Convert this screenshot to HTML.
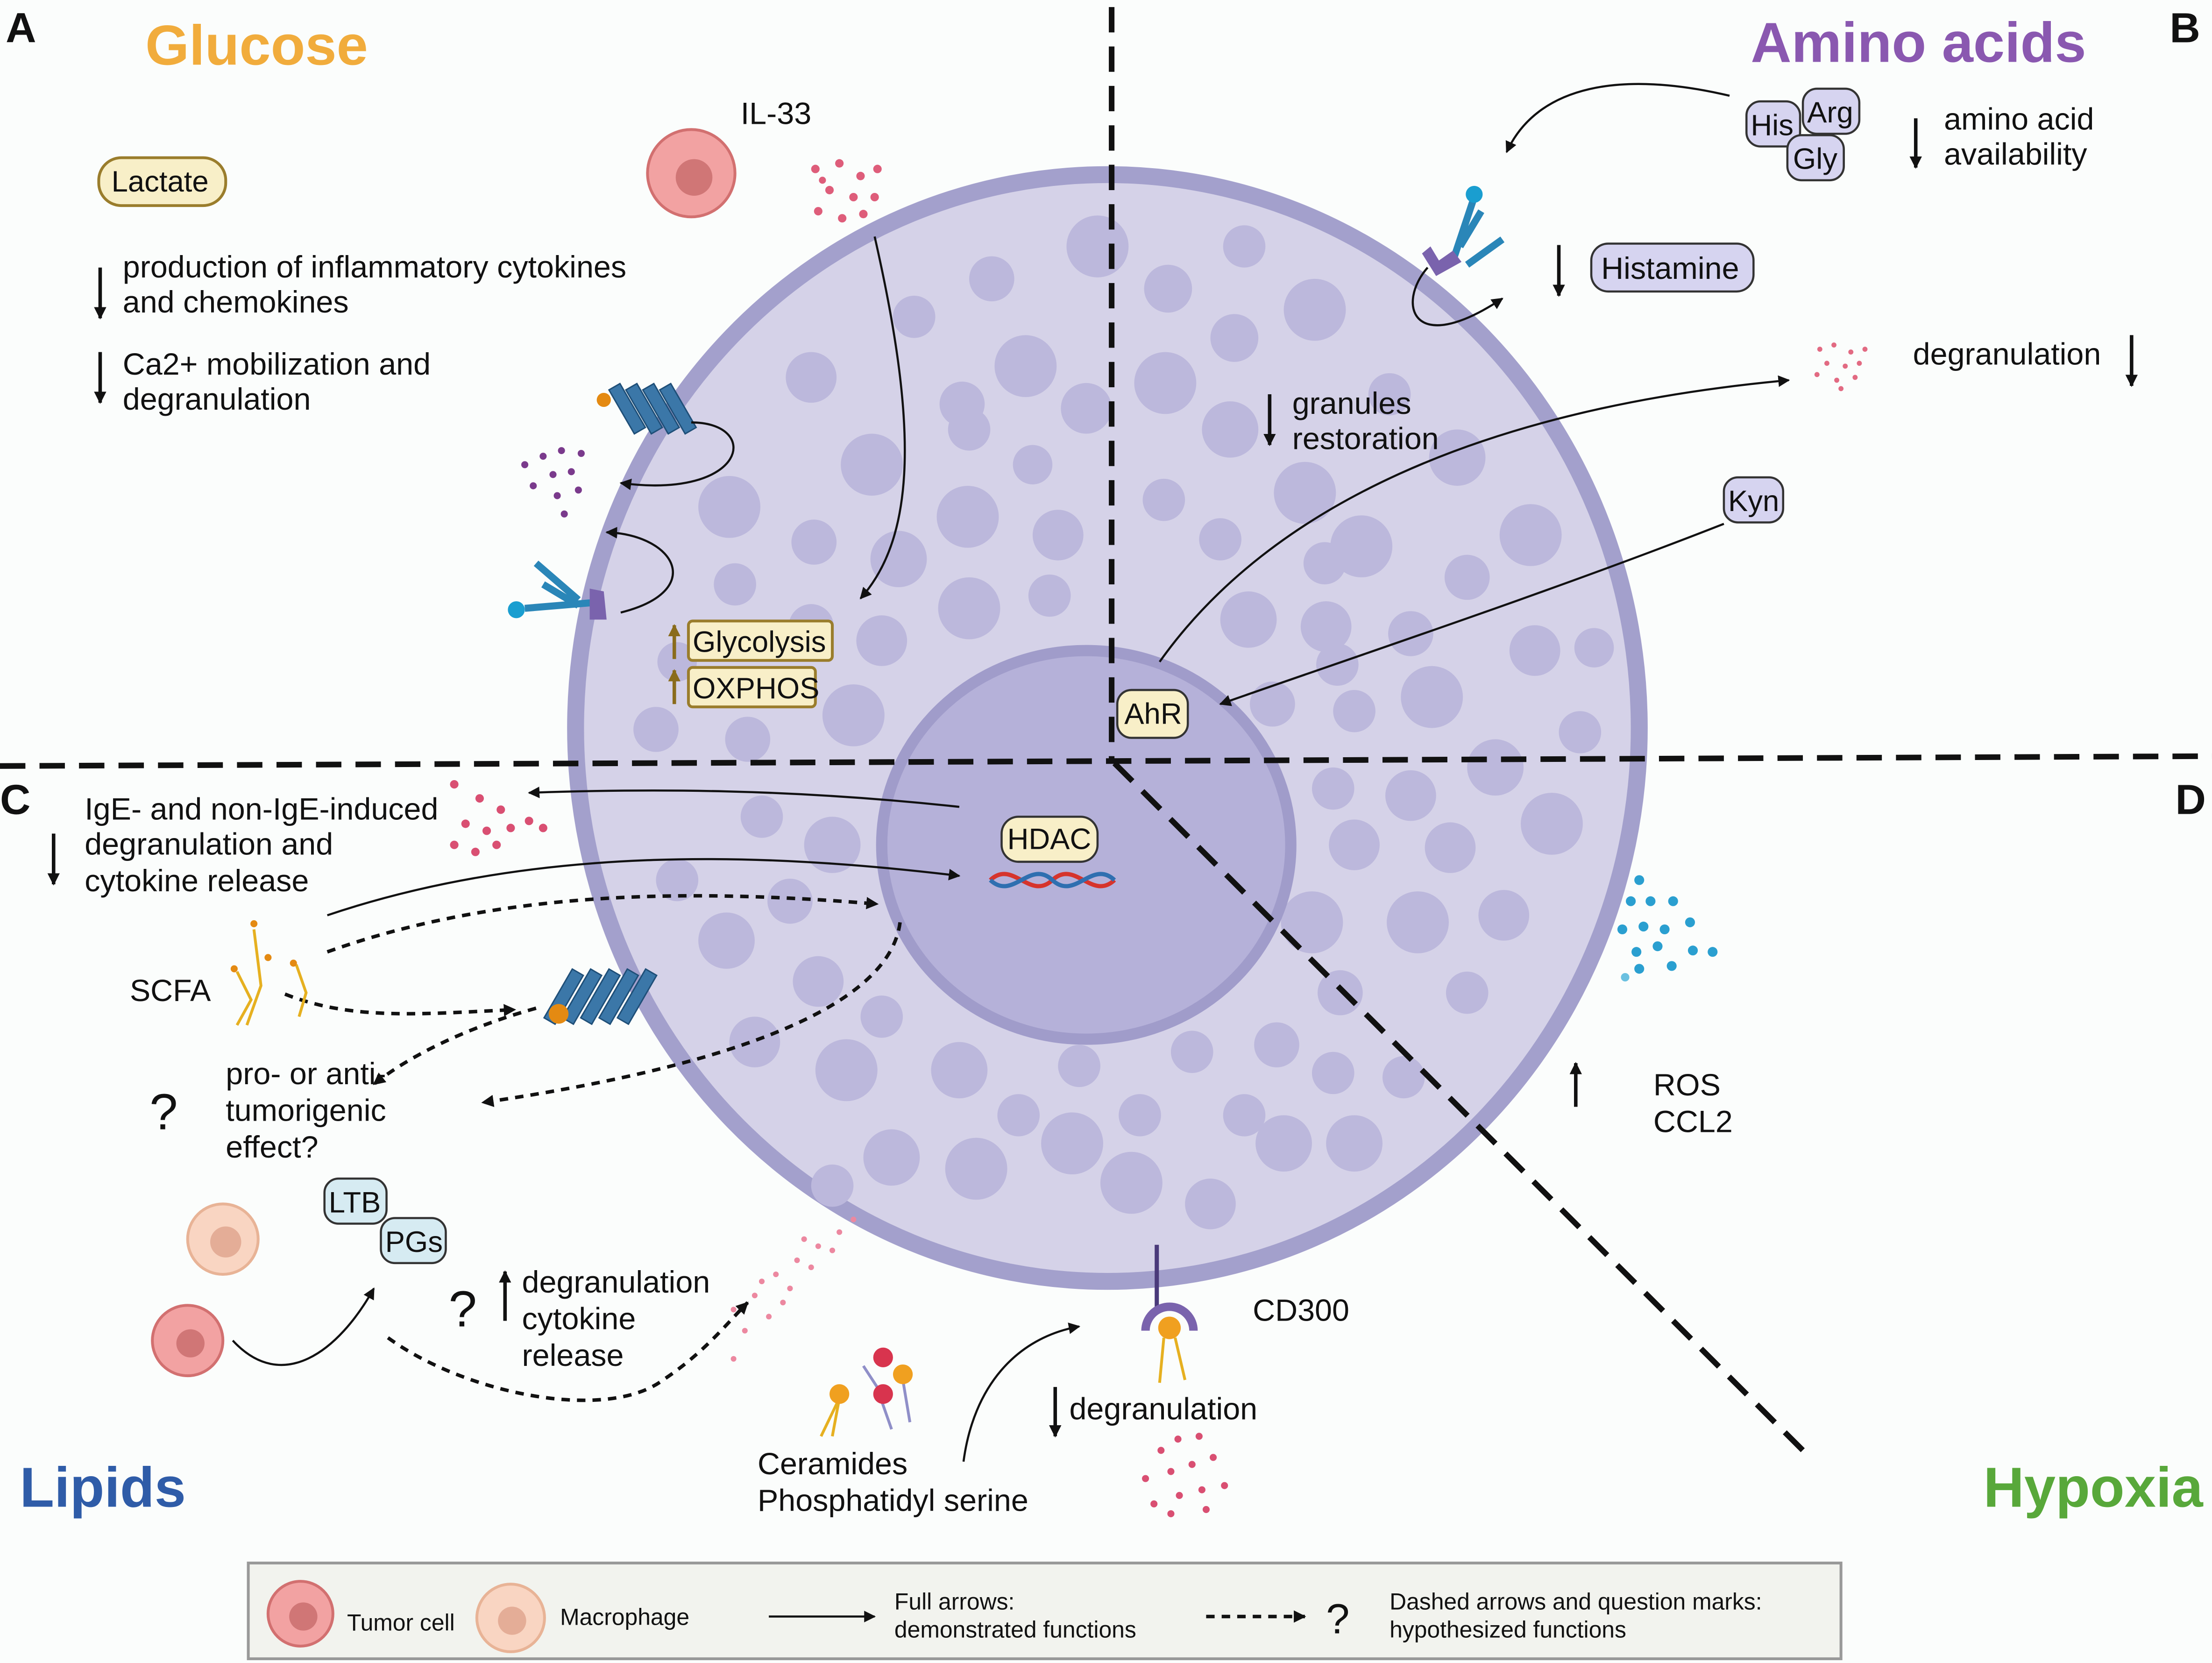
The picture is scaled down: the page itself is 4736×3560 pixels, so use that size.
<!DOCTYPE html>
<html><head><meta charset="utf-8"><style>
html,body{margin:0;padding:0;background:#fff}
svg{display:block}
text{font-family:"Liberation Sans",sans-serif;fill:#111}
</style></head><body>
<svg width="4736" height="3560" viewBox="0 0 1568 1181" preserveAspectRatio="none" xmlns="http://www.w3.org/2000/svg">
<defs>
<marker id="a" viewBox="0 0 10 10" refX="9" refY="5" markerWidth="5.5" markerHeight="5.5" orient="auto-start-reverse"><path d="M0,0L10,5L0,10z" fill="#111"/></marker>
<marker id="b" viewBox="0 0 10 10" refX="9" refY="5" markerWidth="8" markerHeight="8" orient="auto-start-reverse"><path d="M0,0L10,5L0,10z" fill="#111"/></marker>
<marker id="c" viewBox="0 0 10 10" refX="9" refY="5" markerWidth="3.5" markerHeight="3.5" orient="auto-start-reverse"><path d="M0,0L10,5L0,10z" fill="#111"/></marker>
<marker id="d" viewBox="0 0 10 10" refX="9" refY="5" markerWidth="3.5" markerHeight="3.5" orient="auto-start-reverse"><path d="M0,0L10,5L0,10z" fill="#8a6c1c"/></marker>
</defs>
<rect width="1568" height="1181" fill="#fbfdfc"/>
<ellipse cx="785" cy="517" rx="377" ry="393" fill="#d5d2e8" stroke="#a3a0cc" stroke-width="12"/>
<g fill="#bcb8dc">
<circle cx="778" cy="175" r="22"/><circle cx="882" cy="175" r="15"/><circle cx="703" cy="198" r="16"/><circle cx="828" cy="205" r="17"/><circle cx="932" cy="220" r="22"/><circle cx="648" cy="225" r="15"/><circle cx="875" cy="240" r="17"/><circle cx="575" cy="268" r="18"/><circle cx="727" cy="260" r="22"/><circle cx="682" cy="287" r="16"/><circle cx="770" cy="290" r="18"/><circle cx="826" cy="272" r="22"/><circle cx="985" cy="280" r="15"/><circle cx="618" cy="330" r="22"/><circle cx="687" cy="305" r="15"/><circle cx="872" cy="305" r="20"/><circle cx="732" cy="330" r="14"/><circle cx="1033" cy="325" r="20"/><circle cx="517" cy="360" r="22"/><circle cx="686" cy="367" r="22"/><circle cx="925" cy="350" r="22"/><circle cx="577" cy="385" r="16"/><circle cx="825" cy="355" r="15"/><circle cx="1085" cy="380" r="22"/><circle cx="965" cy="388" r="22"/><circle cx="865" cy="383" r="15"/><circle cx="637" cy="397" r="20"/><circle cx="750" cy="380" r="18"/><circle cx="521" cy="415" r="15"/><circle cx="687" cy="432" r="22"/><circle cx="1040" cy="410" r="16"/><circle cx="939" cy="400" r="15"/><circle cx="1000" cy="450" r="16"/><circle cx="575" cy="445" r="16"/><circle cx="744" cy="423" r="15"/><circle cx="625" cy="455" r="18"/><circle cx="885" cy="440" r="20"/><circle cx="1088" cy="462" r="18"/><circle cx="940" cy="445" r="18"/><circle cx="465" cy="518" r="16"/><circle cx="1015" cy="495" r="22"/><circle cx="948" cy="472" r="15"/><circle cx="902" cy="500" r="16"/><circle cx="605" cy="508" r="22"/><circle cx="530" cy="525" r="16"/><circle cx="1120" cy="520" r="15"/><circle cx="960" cy="505" r="15"/><circle cx="1000" cy="565" r="18"/><circle cx="1060" cy="545" r="20"/><circle cx="1100" cy="585" r="22"/><circle cx="945" cy="560" r="15"/><circle cx="480" cy="625" r="15"/><circle cx="540" cy="580" r="15"/><circle cx="590" cy="600" r="20"/><circle cx="1028" cy="602" r="18"/><circle cx="960" cy="600" r="18"/><circle cx="1066" cy="650" r="18"/><circle cx="560" cy="640" r="16"/><circle cx="515" cy="668" r="20"/><circle cx="930" cy="655" r="22"/><circle cx="1005" cy="655" r="22"/><circle cx="1040" cy="705" r="15"/><circle cx="950" cy="705" r="16"/><circle cx="580" cy="697" r="18"/><circle cx="625" cy="722" r="15"/><circle cx="535" cy="740" r="18"/><circle cx="600" cy="760" r="22"/><circle cx="995" cy="765" r="15"/><circle cx="945" cy="762" r="15"/><circle cx="680" cy="760" r="20"/><circle cx="765" cy="757" r="15"/><circle cx="845" cy="747" r="15"/><circle cx="905" cy="742" r="16"/><circle cx="722" cy="792" r="15"/><circle cx="808" cy="792" r="15"/><circle cx="882" cy="792" r="15"/><circle cx="760" cy="812" r="22"/><circle cx="632" cy="822" r="20"/><circle cx="692" cy="830" r="22"/><circle cx="802" cy="840" r="22"/><circle cx="858" cy="855" r="18"/><circle cx="590" cy="842" r="15"/><circle cx="960" cy="812" r="20"/><circle cx="910" cy="812" r="20"/><circle cx="480" cy="470" r="14"/><circle cx="1130" cy="460" r="14"/>
</g>
<ellipse cx="770" cy="600" rx="145" ry="138" fill="#b5b1d9" stroke="#a09cca" stroke-width="8"/>
<g stroke="#111" stroke-width="4" stroke-dasharray="18,10" fill="none">
<line x1="788" y1="5" x2="788" y2="540"/>
<line x1="0" y1="544" x2="1568" y2="537"/>
<line x1="790" y1="542" x2="1278" y2="1030"/>
</g>
<g font-weight="bold" font-size="30">
<text x="4" y="30">A</text><text x="1538" y="30">B</text><text x="0" y="578">C</text><text x="1542" y="578">D</text>
</g>
<text x="103" y="46" font-size="40" font-weight="bold" style="fill:#f1ac3c">Glucose</text>
<text x="1241" y="44" font-size="40" font-weight="bold" style="fill:#8a58b0">Amino acids</text>
<text x="14" y="1070" font-size="40" font-weight="bold" style="fill:#2f5ca8">Lipids</text>
<text x="1406" y="1070" font-size="40" font-weight="bold" style="fill:#58a83a">Hypoxia</text>
<rect x="70" y="112" width="90" height="34" rx="16" fill="#f8efc8" stroke="#9a7d2c" stroke-width="2"/>
<text x="79" y="136" font-size="21">Lactate</text>
<g font-size="22"><text x="87" y="197">production of inflammatory cytokines</text><text x="87" y="222">and chemokines</text><text x="87" y="266">Ca2+ mobilization and</text><text x="87" y="291">degranulation</text>
<text x="525" y="88">IL-33</text></g>
<g stroke="#111" stroke-width="2.5" marker-end="url(#c)"><line x1="71" y1="190" x2="71" y2="226"/><line x1="71" y1="250" x2="71" y2="286"/></g>
<circle cx="490" cy="123" r="31" fill="#f2a2a2" stroke="#d27070" stroke-width="2"/><circle cx="492" cy="126" r="13" fill="#d07676"/>
<g fill="#de5d7a"><circle cx="578" cy="120" r="3"/><circle cx="595" cy="116" r="3"/><circle cx="610" cy="125" r="3"/><circle cx="588" cy="135" r="3"/><circle cx="605" cy="140" r="3"/><circle cx="620" cy="140" r="3"/><circle cx="580" cy="150" r="3"/><circle cx="597" cy="155" r="3"/><circle cx="612" cy="152" r="3"/><circle cx="622" cy="120" r="3"/><circle cx="583" cy="128" r="2.5"/></g>
<path d="M620,168 C650,300 650,380 610,425" stroke="#111" stroke-width="1.5" fill="none" marker-end="url(#a)"/>
<g fill="#3b77a8" stroke="#1f4f78"><rect x="440" y="272" width="9" height="36" transform="rotate(-30 445 290)"/><rect x="452" y="272" width="9" height="36" transform="rotate(-30 457 290)"/><rect x="464" y="272" width="9" height="36" transform="rotate(-30 469 290)"/><rect x="476" y="272" width="9" height="36" transform="rotate(-30 481 290)"/></g>
<circle cx="428" cy="284" r="5" fill="#e48a12"/>
<path d="M490,300 C540,300 530,355 440,343" stroke="#111" stroke-width="1.5" fill="none" marker-end="url(#a)"/>
<g fill="#7a3a8c"><circle cx="372" cy="330" r="2.5"/><circle cx="385" cy="324" r="2.5"/><circle cx="398" cy="320" r="2.5"/><circle cx="412" cy="322" r="2.5"/><circle cx="392" cy="337" r="2.5"/><circle cx="405" cy="335" r="2.5"/><circle cx="378" cy="345" r="2.5"/><circle cx="395" cy="352" r="2.5"/><circle cx="410" cy="348" r="2.5"/><circle cx="400" cy="365" r="2.5"/></g>
<g stroke="#2a86b8" stroke-width="5" fill="none"><line x1="372" y1="432" x2="420" y2="428"/><line x1="380" y1="400" x2="410" y2="426"/><line x1="385" y1="415" x2="410" y2="430"/></g>
<circle cx="366" cy="433" r="6" fill="#1a9ed0"/><path d="M418,418 L428,420 L430,440 L418,440" fill="#7a63ad"/>
<path d="M440,435 C500,420 480,380 430,378" stroke="#111" stroke-width="1.5" fill="none" marker-end="url(#a)"/>
<rect x="488" y="441" width="102" height="28" rx="3" fill="#f8efc8" stroke="#9a7d2c" stroke-width="2"/><text x="491" y="463" font-size="21">Glycolysis</text>
<rect x="488" y="474" width="90" height="28" rx="3" fill="#f8efc8" stroke="#9a7d2c" stroke-width="2"/><text x="491" y="496" font-size="21">OXPHOS</text>
<g stroke="#8a6c1c" stroke-width="2.5" marker-end="url(#d)"><line x1="478" y1="468" x2="478" y2="444"/><line x1="478" y1="500" x2="478" y2="476"/></g>
<g fill="#d6d4f0" stroke="#333" stroke-width="1.5"><rect x="1278" y="63" width="40" height="32" rx="10"/><rect x="1238" y="72" width="38" height="32" rx="10"/><rect x="1267" y="96" width="40" height="32" rx="10"/></g>
<g font-size="21"><text x="1281" y="87">Arg</text><text x="1241" y="96">His</text><text x="1271" y="120">Gly</text></g>
<g font-size="22">
<text x="1378" y="92">amino acid</text><text x="1378" y="117">availability</text>
<text x="1356" y="259">degranulation</text>
<text x="916" y="294">granules</text><text x="916" y="319">restoration</text></g>
<g stroke="#111" stroke-width="2.5" marker-end="url(#c)"><line x1="1358" y1="84" x2="1358" y2="119"/><line x1="1105" y1="174" x2="1105" y2="210"/><line x1="1511" y1="238" x2="1511" y2="274"/><line x1="900" y1="280" x2="900" y2="316"/><line x1="38" y1="592" x2="38" y2="628"/><line x1="748" y1="985" x2="748" y2="1020"/><line x1="358" y1="938" x2="358" y2="903"/><line x1="1117" y1="786" x2="1117" y2="755"/></g>
<path d="M1226,68 C1150,50 1090,60 1068,108" stroke="#111" stroke-width="1.5" fill="none" marker-end="url(#a)"/>
<g stroke="#2a86b8" stroke-width="5" fill="none"><line x1="1030" y1="185" x2="1045" y2="140"/><line x1="1040" y1="188" x2="1065" y2="170"/><line x1="1035" y1="175" x2="1050" y2="150"/></g>
<circle cx="1045" cy="138" r="6" fill="#1a9ed0"/><path d="M1008,180 L1018,196 L1036,186 L1030,178 L1020,185 L1014,175z" fill="#7a63ad"/>
<path d="M1012,190 C990,215 1000,255 1065,212" stroke="#111" stroke-width="1.5" fill="none" marker-end="url(#a)"/>
<rect x="1128" y="173" width="115" height="34" rx="12" fill="#d6d4f0" stroke="#333" stroke-width="1.5"/><text x="1135" y="198" font-size="22">Histamine</text>
<g fill="#e26a82"><circle cx="1290" cy="248" r="1.8"/><circle cx="1300" cy="245" r="1.8"/><circle cx="1312" cy="250" r="1.8"/><circle cx="1322" cy="248" r="1.8"/><circle cx="1295" cy="258" r="1.8"/><circle cx="1308" cy="260" r="1.8"/><circle cx="1318" cy="258" r="1.8"/><circle cx="1288" cy="266" r="1.8"/><circle cx="1302" cy="270" r="1.8"/><circle cx="1315" cy="268" r="1.8"/><circle cx="1305" cy="276" r="1.8"/></g>
<path d="M822,470 C900,360 1050,290 1268,270" stroke="#111" stroke-width="1.5" fill="none" marker-end="url(#a)"/>
<rect x="1222" y="339" width="42" height="32" rx="10" fill="#d6d4f0" stroke="#333" stroke-width="1.5"/><text x="1225" y="363" font-size="21">Kyn</text>
<path d="M1222,372 C1100,420 950,470 865,500" stroke="#111" stroke-width="1.5" fill="none" marker-end="url(#a)"/>
<rect x="792" y="490" width="50" height="34" rx="10" fill="#f8efc8" stroke="#333" stroke-width="1.5"/><text x="797" y="514" font-size="21">AhR</text>
<rect x="710" y="580" width="68" height="32" rx="12" fill="#f8efc8" stroke="#333" stroke-width="1.5"/><text x="714" y="603" font-size="21">HDAC</text>
<path d="M702,625 C718,610 730,640 746,625 C762,610 774,640 790,625" stroke="#d6342c" stroke-width="3" fill="none"/>
<path d="M702,625 C718,640 730,610 746,625 C762,640 774,610 790,625" stroke="#2f6fb0" stroke-width="3" fill="none"/>
<g font-size="22"><text x="60" y="582">IgE- and non-IgE-induced</text><text x="60" y="607">degranulation and</text><text x="60" y="633">cytokine release</text>
<text x="92" y="711">SCFA</text><text x="160" y="770">pro- or anti-</text><text x="160" y="796">tumorigenic</text><text x="160" y="822">effect?</text>
<text x="370" y="918">degranulation</text><text x="370" y="944">cytokine</text><text x="370" y="970">release</text>
<text x="537" y="1047">Ceramides</text><text x="537" y="1073">Phosphatidyl serine</text>
<text x="758" y="1008">degranulation</text><text x="888" y="938">CD300</text>
<text x="1172" y="778">ROS</text><text x="1172" y="804">CCL2</text></g>
<text x="106" y="802" font-size="36">?</text><text x="318" y="942" font-size="36">?</text>
<path d="M680,573 C560,560 460,560 375,563" stroke="#111" stroke-width="1.5" fill="none" marker-end="url(#a)"/>
<path d="M232,650 C380,600 540,605 680,622" stroke="#111" stroke-width="1.5" fill="none" marker-end="url(#a)"/>
<g stroke="#111" stroke-width="2.5" fill="none" stroke-dasharray="6,5" marker-end="url(#c)">
<path d="M232,676 C360,630 500,632 622,642"/>
<path d="M202,706 C250,725 300,720 365,717"/>
<path d="M380,716 C330,730 290,750 265,770"/>
<path d="M638,655 C630,720 500,760 342,783"/>
<path d="M275,950 C330,990 430,1010 470,980 C500,960 515,940 530,925"/>
</g>
<g stroke="#e6b020" stroke-width="2" fill="none"><path d="M180,660 L185,700 L175,728"/><path d="M168,690 L178,710 L168,728"/><path d="M210,685 L217,705 L212,722"/></g>
<g fill="#e48a12"><circle cx="180" cy="656" r="2.5"/><circle cx="166" cy="688" r="2.5"/><circle cx="208" cy="684" r="2.5"/><circle cx="190" cy="680" r="2.5"/></g>
<g fill="#d94f72"><circle cx="322" cy="557" r="3"/><circle cx="340" cy="567" r="3"/><circle cx="355" cy="575" r="3"/><circle cx="330" cy="585" r="3"/><circle cx="345" cy="590" r="3"/><circle cx="362" cy="588" r="3"/><circle cx="322" cy="600" r="3"/><circle cx="337" cy="605" r="3"/><circle cx="352" cy="600" r="3"/><circle cx="375" cy="583" r="3"/><circle cx="385" cy="588" r="3"/></g>
<g fill="#3b77a8" stroke="#1f4f78"><rect x="395" y="688" width="9" height="40" transform="rotate(30 400 708)"/><rect x="408" y="688" width="9" height="40" transform="rotate(30 413 708)"/><rect x="421" y="688" width="9" height="40" transform="rotate(30 426 708)"/><rect x="434" y="688" width="9" height="40" transform="rotate(30 439 708)"/><rect x="447" y="688" width="9" height="40" transform="rotate(30 452 708)"/></g>
<circle cx="396" cy="720" r="7" fill="#e48a12"/>
<rect x="230" y="837" width="44" height="32" rx="10" fill="#d6ebf2" stroke="#333" stroke-width="1.5"/><text x="233" y="861" font-size="21">LTB</text>
<rect x="270" y="865" width="46" height="32" rx="10" fill="#d6ebf2" stroke="#333" stroke-width="1.5"/><text x="273" y="889" font-size="21">PGs</text>
<circle cx="158" cy="880" r="25" fill="#f9d5c2" stroke="#e8b396" stroke-width="2"/><circle cx="160" cy="882" r="11" fill="#e4ad97"/>
<circle cx="133" cy="952" r="25" fill="#f2a2a2" stroke="#d27070" stroke-width="2"/><circle cx="135" cy="954" r="10" fill="#d07676"/>
<path d="M165,952 C200,990 240,960 265,915" stroke="#111" stroke-width="1.5" fill="none" marker-end="url(#a)"/>
<g fill="#ec88a0"><circle cx="520" cy="930" r="2"/><circle cx="535" cy="920" r="2"/><circle cx="550" cy="905" r="2"/><circle cx="565" cy="895" r="2"/><circle cx="580" cy="885" r="2"/><circle cx="595" cy="875" r="2"/><circle cx="605" cy="866" r="2"/><circle cx="528" cy="945" r="2"/><circle cx="545" cy="935" r="2"/><circle cx="560" cy="915" r="2"/><circle cx="575" cy="900" r="2"/><circle cx="590" cy="888" r="2"/><circle cx="540" cy="910" r="2"/><circle cx="520" cy="965" r="2"/><circle cx="555" cy="925" r="2"/><circle cx="570" cy="880" r="2"/></g>
<g stroke="#8f8fc8" stroke-width="2"><line x1="612" y1="970" x2="625" y2="990"/><line x1="625" y1="995" x2="632" y2="1015"/><line x1="640" y1="980" x2="645" y2="1010"/></g>
<g stroke="#e6b020" stroke-width="2"><line x1="595" y1="993" x2="582" y2="1020"/><line x1="595" y1="993" x2="590" y2="1020"/></g>
<circle cx="626" cy="964" r="7" fill="#d8344e"/><circle cx="626" cy="990" r="7" fill="#d8344e"/><circle cx="640" cy="976" r="7" fill="#f0a020"/><circle cx="595" cy="990" r="7" fill="#f0a020"/>
<path d="M683,1038 C690,985 720,950 765,942" stroke="#111" stroke-width="1.5" fill="none" marker-end="url(#a)"/>
<line x1="820" y1="884" x2="820" y2="928" stroke="#4a3a7a" stroke-width="3"/>
<path d="M812,945 A16,16 0 0 1 846,945" stroke="#7a63ad" stroke-width="6" fill="none"/>
<circle cx="829" cy="943" r="8" fill="#f0a020"/><g stroke="#e6b020" stroke-width="2"><line x1="825" y1="950" x2="822" y2="982"/><line x1="833" y1="950" x2="840" y2="980"/></g>
<g fill="#d94f72"><circle cx="823" cy="1030" r="2.5"/><circle cx="835" cy="1022" r="2.5"/><circle cx="850" cy="1020" r="2.5"/><circle cx="812" cy="1050" r="2.5"/><circle cx="830" cy="1045" r="2.5"/><circle cx="845" cy="1040" r="2.5"/><circle cx="860" cy="1035" r="2.5"/><circle cx="818" cy="1068" r="2.5"/><circle cx="836" cy="1062" r="2.5"/><circle cx="852" cy="1058" r="2.5"/><circle cx="868" cy="1055" r="2.5"/><circle cx="830" cy="1075" r="2.5"/><circle cx="855" cy="1072" r="2.5"/></g>
<g fill="#2a9fd0"><circle cx="1162" cy="625" r="3.5"/><circle cx="1156" cy="640" r="3.5"/><circle cx="1170" cy="640" r="3.5"/><circle cx="1186" cy="640" r="3.5"/><circle cx="1150" cy="660" r="3.5"/><circle cx="1165" cy="658" r="3.5"/><circle cx="1180" cy="660" r="3.5"/><circle cx="1198" cy="655" r="3.5"/><circle cx="1160" cy="676" r="3.5"/><circle cx="1175" cy="672" r="3.5"/><circle cx="1200" cy="675" r="3.5"/><circle cx="1214" cy="676" r="3.5"/><circle cx="1162" cy="688" r="3.5"/><circle cx="1185" cy="686" r="3.5"/><circle cx="1152" cy="694" r="3" fill="#6ac0e0"/></g>
<rect x="176" y="1110" width="1129" height="68" fill="#f2f3ee" stroke="#999" stroke-width="2"/>
<circle cx="213" cy="1146" r="23" fill="#f2a2a2" stroke="#d27070" stroke-width="2"/><circle cx="215" cy="1148" r="10" fill="#d07676"/>
<circle cx="362" cy="1149" r="24" fill="#f9d5c2" stroke="#e8b396" stroke-width="2"/><circle cx="363" cy="1151" r="10" fill="#e4ad97"/>
<g font-size="16.5"><text x="246" y="1158">Tumor cell</text><text x="397" y="1154">Macrophage</text><text x="634" y="1143">Full arrows:</text><text x="634" y="1163">demonstrated functions</text><text x="985" y="1143">Dashed arrows and question marks:</text><text x="985" y="1163">hypothesized functions</text></g>
<line x1="545" y1="1148" x2="620" y2="1148" stroke="#111" stroke-width="1.5" marker-end="url(#a)"/>
<line x1="855" y1="1148" x2="925" y2="1148" stroke="#111" stroke-width="2.5" stroke-dasharray="6,5" marker-end="url(#c)"/>
<text x="940" y="1160" font-size="30">?</text>
</svg>
</body></html>
